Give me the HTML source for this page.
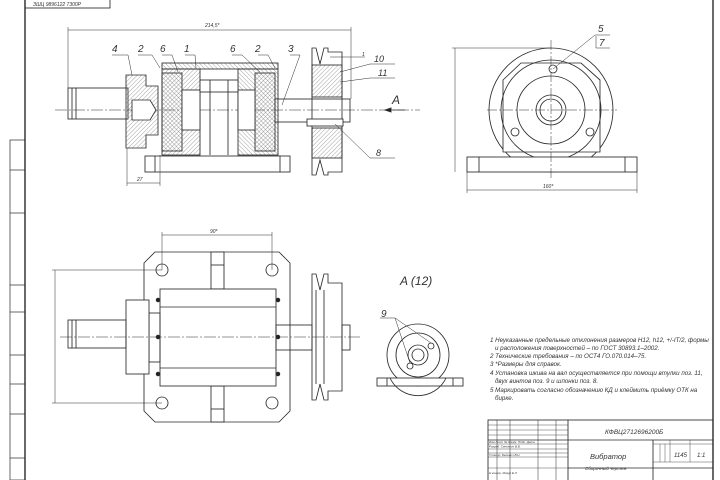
<!DOCTYPE html>
<html><head><meta charset="utf-8"><style>
html,body{margin:0;padding:0;background:#fff}
svg{display:block}
text{font-family:"Liberation Sans","DejaVu Sans",sans-serif;font-style:italic;fill:#333}
</style></head><body>
<svg width="720" height="480" viewBox="0 0 720 480" xmlns="http://www.w3.org/2000/svg">
<defs>
<pattern id="h" width="3" height="3" patternUnits="userSpaceOnUse" patternTransform="rotate(45)"><line x1="0" y1="0" x2="0" y2="3" stroke="#666" stroke-width="0.6"/></pattern>
<pattern id="h2" width="3" height="3" patternUnits="userSpaceOnUse" patternTransform="rotate(-45)"><line x1="0" y1="0" x2="0" y2="3" stroke="#666" stroke-width="0.6"/></pattern>
</defs>
<g fill="none" stroke="#2a2a2a" stroke-width="0.85">
<!-- frame -->
<line x1="25" y1="0" x2="25" y2="480" stroke-width="1.4"/>
<line x1="713" y1="0" x2="713" y2="480" stroke-width="1.4"/>
<rect x="25" y="-1" width="85" height="9"/>
<rect x="10" y="140" width="15" height="340" stroke-width="0.7"/>
<line x1="10" y1="170" x2="25" y2="170" stroke-width="0.7"/>
<line x1="10" y1="213" x2="25" y2="213" stroke-width="0.7"/>
<line x1="10" y1="285" x2="25" y2="285" stroke-width="0.7"/>
<line x1="10" y1="312" x2="25" y2="312" stroke-width="0.7"/>
<line x1="10" y1="355" x2="25" y2="355" stroke-width="0.7"/>
<line x1="10" y1="384" x2="25" y2="384" stroke-width="0.7"/>
<line x1="10" y1="414" x2="25" y2="414" stroke-width="0.7"/>
<line x1="10" y1="458" x2="25" y2="458" stroke-width="0.7"/>

<!-- TOP SECTION VIEW -->
<g stroke-width="0.5"><line x1="68" y1="30" x2="351" y2="30"/><line x1="68" y1="27" x2="68" y2="88"/><line x1="351" y1="27" x2="351" y2="99"/>
<line x1="127" y1="183" x2="160" y2="183"/><line x1="127" y1="148" x2="127" y2="186"/><line x1="160" y1="155" x2="160" y2="186"/>
<line x1="55" y1="110" x2="420" y2="110" stroke-dasharray="12,2,2,2"/></g>
<rect x="68" y="88" width="60" height="31"/><line x1="76" y1="88" x2="76" y2="119"/><line x1="72" y1="88" x2="72" y2="119"/>
<path d="M126 75 H146 V86 H158 V135 H146 V148 H126 Z" fill="url(#h)"/>
<path d="M132 100 H150 L156 110 L150 120 H132 Z" fill="#fff"/>
<rect x="162" y="63" width="116" height="6" fill="url(#h2)"/>
<rect x="162" y="69" width="38" height="86" fill="url(#h)"/>
<rect x="238" y="69" width="40" height="86" fill="url(#h2)"/>
<rect x="162" y="73" width="20" height="78" fill="url(#h2)"/>
<rect x="255" y="73" width="20" height="78" fill="url(#h)"/>
<rect x="182" y="90" width="18" height="40" fill="#fff"/>
<rect x="238" y="90" width="17" height="40" fill="#fff"/>
<rect x="200" y="80" width="38" height="12" fill="#fff"/>
<line x1="210" y1="80" x2="210" y2="155"/><line x1="228" y1="80" x2="228" y2="155"/>
<rect x="145" y="156" width="145" height="16"/><line x1="155" y1="156" x2="155" y2="172"/><line x1="280" y1="156" x2="280" y2="172"/>
<rect x="275" y="99" width="75" height="23"/>
<path d="M312 48 L316 48 L320 64 L324 48 L328 48 L328 52 L342 52 L342 172 L328 172 L328 175 L324 175 L320 160 L316 175 L312 175 Z"/>
<rect x="312" y="65" width="30" height="32" fill="url(#h)"/>
<rect x="312" y="128" width="30" height="30" fill="url(#h)"/>
<rect x="307" y="119" width="36" height="7" fill="#fff"/>
<g stroke-width="0.5"><polyline points="112,55 128,55 132,75"/><polyline points="138,55 152,55 160,68"/><polyline points="162,55 172,55 178,72"/><polyline points="185,55 195,55 196,68"/><polyline points="232,55 242,55 260,72"/><polyline points="258,55 268,55 275,68"/><polyline points="290,55 300,55 282,105"/><polyline points="395,64 370,64 340,72"/><polyline points="395,78 370,78 340,82"/><polyline points="395,158 370,158 335,124"/>
<line x1="330" y1="57" x2="365" y2="57"/></g>
<path d="M385 110 H405"/><path d="M385 110 l6 -2 v4 z" fill="#222"/>

<!-- TOP RIGHT VIEW -->
<circle cx="551" cy="110" r="62"/>
<path d="M521 63 H581 L600 80 V152 H503 V80 Z" fill="#fff"/>
<circle cx="551" cy="110" r="50"/><circle cx="551" cy="110" r="34"/><circle cx="551" cy="110" r="15"/><circle cx="551" cy="110" r="11"/>
<rect x="467" y="157" width="170" height="15" fill="#fff"/><line x1="479" y1="157" x2="479" y2="172"/><line x1="625" y1="157" x2="625" y2="172"/>
<circle cx="553" cy="69" r="4"/><circle cx="515" cy="132" r="4"/><circle cx="590" cy="132" r="4"/>
<g stroke-width="0.5"><line x1="487" y1="110" x2="617" y2="110" stroke-dasharray="10,2,2,2"/><line x1="551" y1="40" x2="551" y2="180" stroke-dasharray="10,2,2,2"/>
<line x1="455" y1="48" x2="455" y2="172"/><line x1="452" y1="48" x2="551" y2="48"/><line x1="467" y1="190" x2="637" y2="190"/><line x1="467" y1="172" x2="467" y2="193"/><line x1="637" y1="172" x2="637" y2="193"/>
<polyline points="553,69 595,35 610,35"/><polyline points="596,36 596,48 610,48"/></g>

<!-- BOTTOM LEFT VIEW -->
<path d="M155 252 H279 L290 263 V411 L279 422 H155 L144 411 V263 Z"/>
<rect x="211" y="252" width="13" height="37" fill="#fff"/><line x1="211" y1="265" x2="224" y2="265"/>
<rect x="211" y="386" width="13" height="36" fill="#fff"/><line x1="211" y1="409" x2="224" y2="409"/>
<circle cx="162" cy="270" r="6"/><circle cx="272" cy="270" r="6"/><circle cx="162" cy="403" r="6"/><circle cx="272" cy="403" r="6"/>
<rect x="160" y="289" width="116" height="97" fill="#fff"/><line x1="160" y1="307" x2="276" y2="307"/><line x1="160" y1="368" x2="276" y2="368"/>
<rect x="149" y="313" width="11" height="49"/>
<rect x="126" y="300" width="23" height="74" fill="#fff"/>
<rect x="68" y="320" width="58" height="28"/><line x1="76" y1="320" x2="76" y2="348"/><line x1="72" y1="320" x2="72" y2="348"/>
<rect x="276" y="325" width="36" height="25"/>
<path d="M312 274 H316 L320 290 L324 274 H328 V283 H342 V391 H328 V400 H324 L320 384 L316 400 H312 Z"/>
<line x1="316" y1="290" x2="316" y2="384"/><line x1="324" y1="290" x2="324" y2="384"/>
<rect x="342" y="325" width="8" height="25"/>
<g fill="#222"><circle cx="158" cy="300" r="1.8"/><circle cx="158" cy="337" r="1.8"/><circle cx="158" cy="374" r="1.8"/><circle cx="278" cy="300" r="1.8"/><circle cx="278" cy="337" r="1.8"/><circle cx="278" cy="374" r="1.8"/></g>
<g stroke-width="0.5"><line x1="162" y1="235" x2="272" y2="235"/><line x1="162" y1="232" x2="162" y2="270"/><line x1="272" y1="232" x2="272" y2="270"/>
<line x1="55" y1="270" x2="55" y2="403"/><line x1="52" y1="270" x2="162" y2="270"/><line x1="52" y1="403" x2="162" y2="403"/>
<line x1="60" y1="337" x2="360" y2="337" stroke-dasharray="12,2,2,2"/></g>

<!-- A VIEW -->
<circle cx="418" cy="355" r="31"/><circle cx="418" cy="355" r="22"/><circle cx="418" cy="355" r="10"/><circle cx="418" cy="355" r="6"/>
<rect x="377" y="378" width="86" height="8" fill="#fff"/><path d="M390 378 A31 31 0 0 0 446 378" />
<line x1="387" y1="378" x2="387" y2="386"/><line x1="453" y1="378" x2="453" y2="386"/>
<circle cx="431" cy="346" r="3"/><circle cx="410" cy="366" r="3"/>
<g stroke-width="0.5"><polyline points="380,318 395,318 431,343"/><line x1="395" y1="318" x2="410" y2="363"/></g>

<!-- TITLE BLOCK -->
<rect x="488" y="420" width="225" height="62"/>
<line x1="568" y1="420" x2="568" y2="480"/>
<line x1="497" y1="420" x2="497" y2="480" stroke-width="0.5"/><line x1="510" y1="420" x2="510" y2="480" stroke-width="0.5"/>
<line x1="538" y1="420" x2="538" y2="480" stroke-width="0.5"/><line x1="556" y1="420" x2="556" y2="480" stroke-width="0.5"/>
<g stroke-width="0.4"><line x1="488" y1="425" x2="568" y2="425"/><line x1="488" y1="430" x2="568" y2="430"/><line x1="488" y1="435" x2="568" y2="435"/><line x1="488" y1="444" x2="568" y2="444"/><line x1="488" y1="449" x2="568" y2="449"/><line x1="488" y1="453" x2="568" y2="453"/><line x1="488" y1="457" x2="568" y2="457"/><line x1="488" y1="468" x2="568" y2="468"/></g>
<line x1="488" y1="440" x2="713" y2="440"/>
<line x1="653" y1="440" x2="653" y2="480"/><line x1="568" y1="468" x2="713" y2="468"/>
<g stroke-width="0.4"><line x1="653" y1="444" x2="713" y2="444"/><line x1="653" y1="462" x2="713" y2="462"/><line x1="670" y1="440" x2="670" y2="462"/><line x1="690" y1="440" x2="690" y2="462"/><line x1="660" y1="444" x2="660" y2="462"/><line x1="665" y1="444" x2="665" y2="462"/></g>
</g>

<g font-size="7">
<text x="33" y="6" font-size="5">ЗШЦ 9896122 7300Р</text>
<text x="205" y="27" font-size="5">214,5*</text>
<text x="112" y="52" font-size="10">4</text><text x="138" y="52" font-size="10">2</text><text x="160" y="52" font-size="10">6</text><text x="184" y="52" font-size="10">1</text>
<text x="230" y="52" font-size="10">6</text><text x="255" y="52" font-size="10">2</text><text x="288" y="52" font-size="10">3</text>
<text x="374" y="62" font-size="9">10</text><text x="378" y="76" font-size="9">11</text><text x="376" y="156" font-size="9">8</text>
<text x="392" y="104" font-size="12" font-style="normal">A</text>
<text x="362" y="56" font-size="5">1</text>
<text x="137" y="181" font-size="5">27</text>
<text x="598" y="32" font-size="10">5</text><text x="599" y="46" font-size="10">7</text>
<text x="543" y="188" font-size="5">160*</text>
<text x="210" y="233" font-size="5">90*</text>
<text x="400" y="285" font-size="12" font-style="normal">A (12)</text>
<text x="381" y="317" font-size="10">9</text>
<g font-size="6.2">
<text x="490" y="342">1 Неуказанные предельные отклонения размеров H12, h12, +/-IT/2, формы</text>
<text x="495" y="350">и расположения поверхностей – по ГОСТ 30893.1–2002.</text>
<text x="490" y="358">2 Технические требования – по ОСТ4 ГО.070.014–75.</text>
<text x="490" y="366">3 *Размеры для справок.</text>
<text x="490" y="375">4 Установка шкива на вал осуществляется при помощи втулки поз. 11,</text>
<text x="495" y="383">двух винтов поз. 9 и шпонки поз. 8.</text>
<text x="490" y="392">5 Маркировать согласно обозначению КД и клеймить приёмку ОТК на</text>
<text x="495" y="400">бирке.</text>
</g>
<text x="605" y="434" font-size="6.5">КФВЦ2712696200Б</text>
<text x="590" y="459" font-size="7.5">Вибратор</text>
<text x="585" y="470" font-size="4.5">Сборочный чертеж</text>
<text x="674" y="457" font-size="6">1145</text><text x="697" y="457" font-size="6">1:1</text>
<text x="489" y="443" font-size="3">Изм Лист  № докум.  Подп. Дата</text>
<text x="489" y="447.5" font-size="3">Разраб.  Сенкевич В.В.</text>
<text x="489" y="456" font-size="3">Т.контр.  Белевич В.Н.</text>
<text x="489" y="474" font-size="3">Н.контр.  Мазур Е.Л.</text>
</g>
</svg>
</body></html>
